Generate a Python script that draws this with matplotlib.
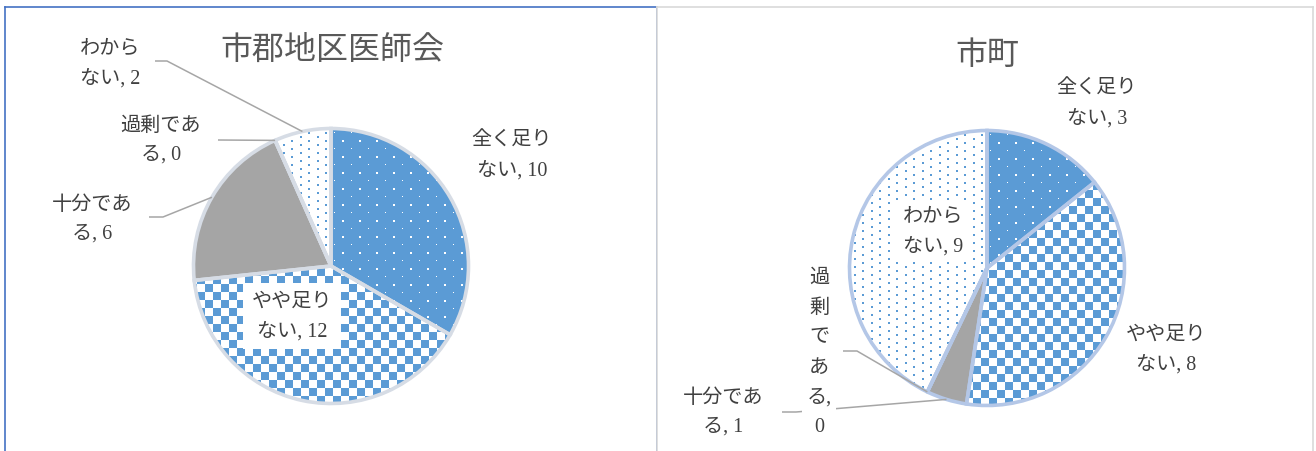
import numpy as np
import matplotlib
matplotlib.use("Agg")
import matplotlib.pyplot as plt

# survey answers: shortage of doctors, two respondent groups
categories = ["全く足りない", "やや足りない", "十分である", "過剰である", "わからない"]
ishikai_values = [10, 12, 6, 0, 2]
shicho_values = [3, 8, 1, 0, 9]
titles = ["市郡地区医師会", "市町"]

W, H = 1316, 452
S = 137.5  # pixels per unit radius

BLUE = np.array([0x5B, 0x9B, 0xD5, 255]) / 255
WHITE = np.array([1.0, 1.0, 1.0, 1.0])
GRAY = "#A5A5A5"
LINE = "#A6A6A6"
TXT = "#404040"
LABEL_FONT = ["Liberation Serif", "Noto Sans CJK JP"]
TITLE_FONT = ["Noto Sans CJK JP"]


def pattern(kind, size):
    img = np.zeros((size, size, 4))
    yy, xx = np.mgrid[0:size, 0:size]
    if kind == "checker":
        img[:] = WHITE
        img[((xx // 8) + (yy // 8)) % 2 == 0] = BLUE
    elif kind == "dots_blue":
        img[:] = BLUE
        row = yy // 8
        off = (row % 2) * 8
        big = (row % 2 == 0) & (yy % 8 < 2) & ((xx + off) % 17 < 2)
        small = (row % 2 == 1) & (yy % 8 < 1) & ((xx + off) % 17 < 1)
        img[big | small] = WHITE
    elif kind == "dots_white":
        img[:] = WHITE
        row = yy // 4
        off = (row % 2) * 8
        on = (yy % 4 < 2) & ((xx + off) % 17 < 2)
        img[on] = BLUE
    return img


kinds = ["dots_blue", "checker", None, None, "dots_white"]
faces = ["#5B9BD5", "white", GRAY, "white", "white"]


def draw_pie(ax, values, edge):
    wedges, _ = ax.pie(values, startangle=90, counterclock=False, radius=1,
                       colors=faces, wedgeprops=dict(linewidth=0))
    size = 2 * int(np.ceil(S)) + 8
    half = size / 2 / S
    for w, k in zip(wedges, kinds):
        if k is None or w.theta1 == w.theta2:
            continue
        im = ax.imshow(pattern(k, size), extent=(-half, half, -half, half),
                       interpolation="nearest", zorder=2)
        im.set_clip_path(w)
    ax.pie(values, startangle=90, counterclock=False, radius=1,
           wedgeprops=dict(facecolor="none", edgecolor=edge, linewidth=2.6, zorder=3))
    return wedges


def setup_axes(fig, x0, x1, cx, cy, border):
    ax = fig.add_axes([x0 / W, 0, (x1 - x0) / W, (H - 8) / H])
    return ax, (cx, cy, x0, x1, border)


def finish(ax, geo):
    cx, cy, x0, x1, border = geo
    ax.set_xlim((x0 - cx) / S, (x1 - cx) / S)
    ax.set_ylim((cy - H) / S, (cy - 8) / S)
    ax.set_aspect("auto")
    ax.set_frame_on(True)
    ax.set_xticks([])
    ax.set_yticks([])
    for name, sp in ax.spines.items():
        sp.set_color(border)
        sp.set_linewidth(1.2)
        sp.set_visible(name != "bottom")


def P(geo, px, py):
    cx, cy = geo[0], geo[1]
    return (px - cx) / S, (cy - py) / S


def mid_point(w):
    a = np.deg2rad((w.theta1 + w.theta2) / 2)
    return np.cos(a), np.sin(a)


def label(ax, geo, xy, s, box=False, ls=1.72, pad=6):
    x, y = P(geo, *xy)
    kw = {}
    if box:
        kw["bbox"] = dict(facecolor="white", edgecolor="none", pad=pad)
    ax.text(x, y, s, ha="center", va="center", fontsize=14.5, color=TXT,
            family=LABEL_FONT, linespacing=ls, zorder=5, **kw)


def leader(ax, geo, pts, end):
    xs = [P(geo, *p)[0] for p in pts] + [end[0]]
    ys = [P(geo, *p)[1] for p in pts] + [end[1]]
    ax.plot(xs, ys, color=LINE, lw=1.1, zorder=4, solid_capstyle="butt")


def wrap(name, k, v):
    return name[:k] + "\n" + name[k:] + f", {v}"


fig = plt.figure(figsize=(W / 100, H / 100), dpi=100)

# left chart
ax1, g1 = setup_axes(fig, 5, 657, 331, 267, "#4472C4")
w1 = draw_pie(ax1, ishikai_values, "#D6DCE5")
finish(ax1, g1)
ax1.text(*P(g1, 332, 50), titles[0], ha="center", va="center", fontsize=23,
         color="#595959", family=TITLE_FONT)
label(ax1, g1, (512, 156), wrap(categories[0], 4, ishikai_values[0]))
label(ax1, g1, (292, 317), wrap(categories[1], 4, ishikai_values[1]), box=True)
label(ax1, g1, (92, 220), wrap(categories[2], 4, ishikai_values[2]))
label(ax1, g1, (161, 141), wrap(categories[3], 4, ishikai_values[3]))
label(ax1, g1, (110, 64), wrap(categories[4], 3, ishikai_values[4]))
leader(ax1, g1, [(155, 62), (167, 62)], mid_point(w1[4]))
leader(ax1, g1, [(218, 141)], mid_point(w1[3]))
leader(ax1, g1, [(149, 218), (163, 218)], mid_point(w1[2]))

# right chart
ax2, g2 = setup_axes(fig, 657, 1313, 987, 269, "#D9D9D9")
w2 = draw_pie(ax2, shicho_values, "#B4C7E7")
finish(ax2, g2)
ax2.text(*P(g2, 987, 55), titles[1], ha="center", va="center", fontsize=23,
         color="#595959", family=TITLE_FONT)
label(ax2, g2, (1097, 104), wrap(categories[0], 4, shicho_values[0]))
label(ax2, g2, (1166, 350), wrap(categories[1], 4, shicho_values[1]))
label(ax2, g2, (723, 413), wrap(categories[2], 4, shicho_values[2]))
label(ax2, g2, (819, 353), "\n".join(categories[3][:4]) + "\n" + categories[3][4:]
      + f",\n{shicho_values[3]}", box=True, ls=1.78, pad=3)
label(ax2, g2, (933, 232), wrap(categories[4], 3, shicho_values[4]), box=True, pad=5)
leader(ax2, g2, [(843, 352), (857, 352)], mid_point(w2[3]))
leader(ax2, g2, [(782, 413), (796, 413)], mid_point(w2[2]))

fig.savefig("out.png", dpi=100)
